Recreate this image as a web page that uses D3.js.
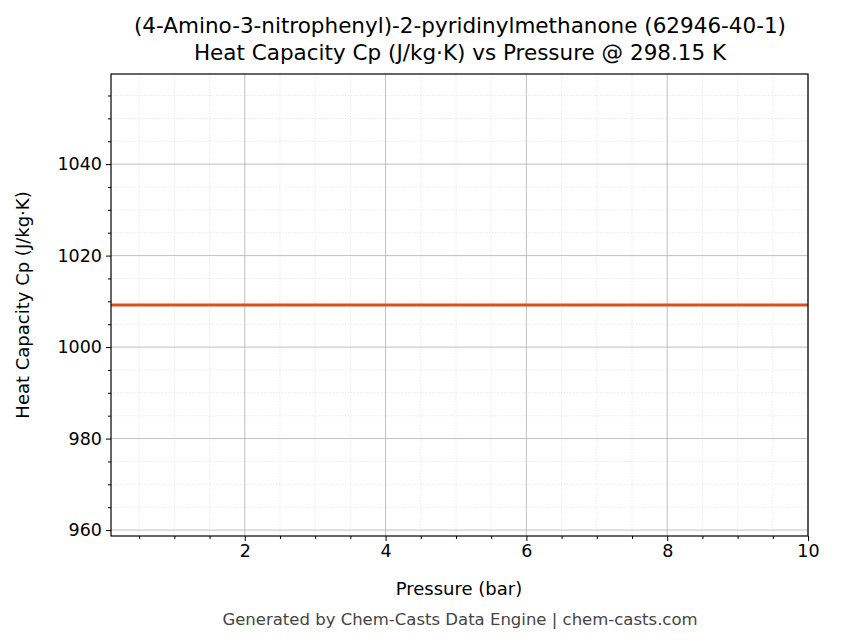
<!DOCTYPE html>
<html><head><meta charset="utf-8">
<script src="https://cdn.jsdelivr.net/npm/d3@7"></script>
<style>body{margin:0;background:#fff}text{font-family:"DejaVu Sans",sans-serif}</style>
</head><body><svg id="c" width="854" height="644"></svg>
<script>
const pressure = [0.1, 1, 2, 3, 4, 5, 6, 7, 8, 9, 10];
const cp = [1009.2, 1009.2, 1009.2, 1009.2, 1009.2, 1009.2, 1009.2, 1009.2, 1009.2, 1009.2, 1009.2];
const xTicks = [2, 4, 6, 8, 10];
const yTicks = [960, 980, 1000, 1020, 1040];
const titleLines = ["(4-Amino-3-nitrophenyl)-2-pyridinylmethanone (62946-40-1)", "Heat Capacity Cp (J/kg·K) vs Pressure @ 298.15 K"];

const L=111,R=808,T=74,B=536;
const svg=d3.select("#c");
const x=d3.scaleLinear().domain([0.1,10]).range([L,R]);
const y=d3.scaleLinear().domain([958.7,1059.7]).range([B,T]);
const xMinor=d3.range(0.5,10.01,0.5).filter(v=>!xTicks.includes(v));
const yMinor=d3.range(960,1060,5).filter(v=>!yTicks.includes(v));
const g=svg.append("g");
g.selectAll(".xm").data(xMinor).join("line").attr("x1",d=>x(d)).attr("x2",d=>x(d)).attr("y1",T).attr("y2",B).attr("stroke","#ddd").attr("stroke-width",0.6).attr("stroke-dasharray","1.5,1.5");
g.selectAll(".ym").data(yMinor).join("line").attr("y1",d=>y(d)).attr("y2",d=>y(d)).attr("x1",L).attr("x2",R).attr("stroke","#ddd").attr("stroke-width",0.6).attr("stroke-dasharray","1.5,1.5");
g.selectAll(".xg").data(xTicks).join("line").attr("x1",d=>x(d)).attr("x2",d=>x(d)).attr("y1",T).attr("y2",B).attr("stroke","#b0b0b0").attr("stroke-width",0.8);
g.selectAll(".yg").data(yTicks).join("line").attr("y1",d=>y(d)).attr("y2",d=>y(d)).attr("x1",L).attr("x2",R).attr("stroke","#b0b0b0").attr("stroke-width",0.8);

svg.append("path").datum(pressure.map((p,i)=>[p,cp[i]])).attr("fill","none").attr("stroke","#d8501c").attr("stroke-width",3)
 .attr("d",d3.line().x(d=>x(d[0])).y(d=>y(d[1])));

svg.append("g").attr("transform",`translate(0,${B})`).call(d3.axisBottom(x).tickValues(xTicks).tickFormat(d3.format("d")).tickSize(5).tickPadding(4));
svg.append("g").attr("transform",`translate(0,${B})`).call(d3.axisBottom(x).tickValues(xMinor).tickFormat("").tickSize(3)).select(".domain").remove();
svg.append("g").attr("transform",`translate(${L},0)`).call(d3.axisLeft(y).tickValues(yTicks).tickFormat(d3.format("d")).tickSize(5).tickPadding(4));
svg.append("g").attr("transform",`translate(${L},0)`).call(d3.axisLeft(y).tickValues(yMinor).tickFormat("").tickSize(3)).select(".domain").remove();
svg.selectAll(".tick text").attr("font-size",17.5).attr("fill","#000").style("font-family","DejaVu Sans");
svg.selectAll(".domain").remove();
svg.append("rect").attr("x",L).attr("y",T).attr("width",R-L).attr("height",B-T).attr("fill","none").attr("stroke","#000").attr("stroke-width",1.2);

svg.selectAll(".title").data(titleLines).join("text").attr("x",460).attr("y",(d,i)=>33+i*27).attr("text-anchor","middle").attr("font-size",21.5).text(d=>d);
svg.append("text").attr("x",459).attr("y",595).attr("text-anchor","middle").attr("font-size",18).text("Pressure (bar)");
svg.append("text").attr("transform","translate(29,305) rotate(-90)").attr("text-anchor","middle").attr("font-size",18).text("Heat Capacity Cp (J/kg·K)");
svg.append("text").attr("x",460).attr("y",625).attr("text-anchor","middle").attr("font-size",16.5).attr("fill","#444").text("Generated by Chem-Casts Data Engine | chem-casts.com");
</script></body></html>
